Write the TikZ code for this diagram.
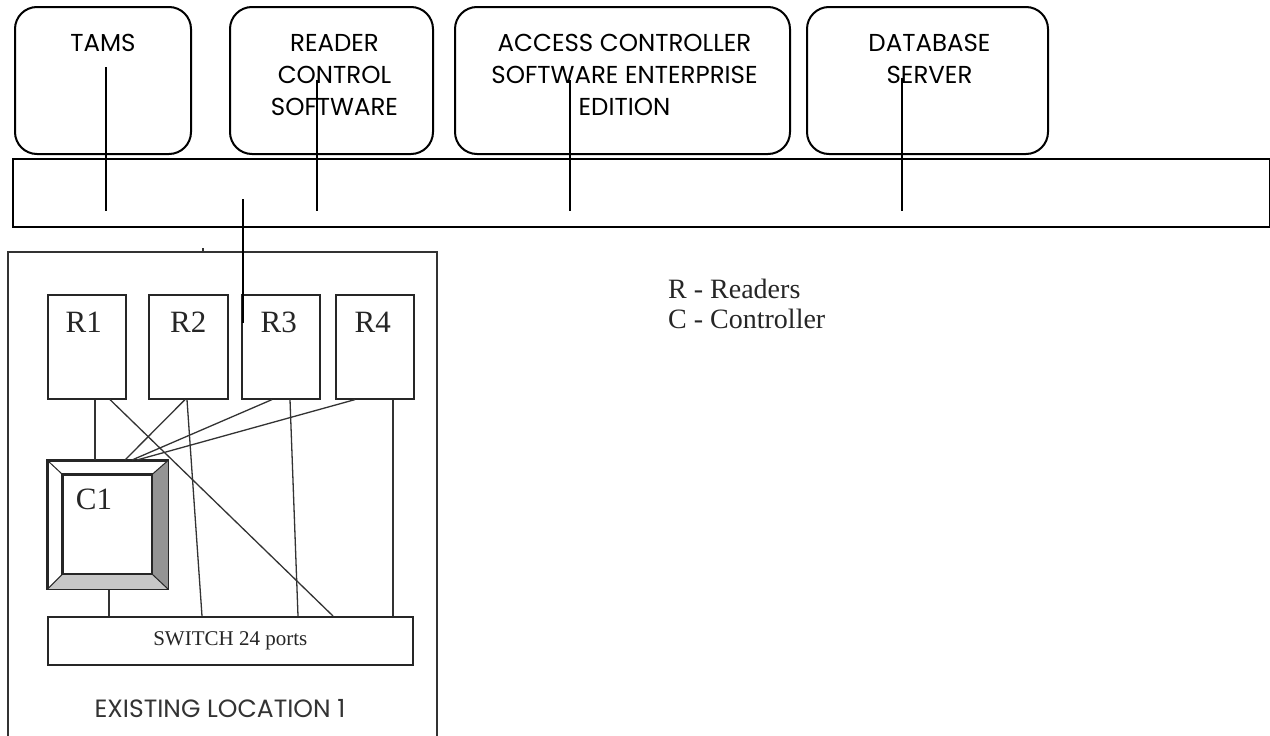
\documentclass[tikz,border=0pt]{standalone}
\usepackage{fontspec}
\setmainfont{Liberation Serif}
\newfontfamily\gothic{Poppins}
\usetikzlibrary{calc}
\begin{document}
\begin{tikzpicture}[x=1pt,y=-1pt,
  topbox/.style={draw=black, line width=2pt, rounded corners=22pt, inner sep=0pt, anchor=north west, minimum height=147pt},
  toptext/.style={font=\gothic\fontsize{24.5}{32}\selectfont, align=center, inner sep=0pt, anchor=north},
  buslink/.style={line width=1.6pt, draw=black},
  locline/.style={line width=2pt, draw=black!80},
  reader/.style={draw=black!85, line width=1.6pt, minimum width=78pt, minimum height=104pt, inner sep=0pt, anchor=north west},
  serif/.style={font=\fontsize{31}{34}\selectfont, inner sep=0pt, text=black!85},
  wire/.style={line width=1.3pt, draw=black!80},
]
\useasboundingbox[fill=white] (0,0) rectangle (1270,736);

% top boxes
\node[topbox, minimum width=176pt] (tams) at (14,6) {};
\node[topbox, minimum width=203pt] (rcs) at (229,6) {};
\node[topbox, minimum width=335pt] (acs) at (454,6) {};
\node[topbox, minimum width=241pt] (db) at (806,6) {};
\node[toptext] (tamsT) at ($(tams.north)+(0,28)$) {TAMS};
\node[toptext] (rcsT) at ($(rcs.north)+(3,28)$) {READER\\CONTROL\\SOFTWARE};
\node[toptext] (acsT) at ($(acs.north)+(2,28)$) {ACCESS CONTROLLER\\SOFTWARE ENTERPRISE\\EDITION};
\node[toptext] (dbT) at ($(db.north)+(2,28)$) {DATABASE\\SERVER};

% bus bar
\node[draw=black, line width=2pt, minimum width=1257pt, minimum height=68pt, inner sep=0pt, anchor=north west] (bus) at (12,158) {};

\coordinate (tamsP) at (106,67);  \coordinate (busA) at (106,211);
\coordinate (rcsP) at (317,80);   \coordinate (busB) at (317,211);
\coordinate (acsP) at (570,80);   \coordinate (busC) at (570,211);
\coordinate (dbP) at (902,78);    \coordinate (busD) at (902,211);
\draw[buslink] (tamsP) -- (busA);
\draw[buslink] (rcsP) -- (busB);
\draw[buslink] (acsP) -- (busC);
\draw[buslink] (dbP) -- (busD);

% location enclosure
\draw[locline] (8,745) -- (8,252) -- (437,252) -- (437,745);
\draw[line width=1.5pt, black!80] (203,248) -- (203,252);

% readers
\node[reader] (r1) at (47,294) {};
\node[reader, minimum width=79pt] (r2) at (148,294) {};
\node[reader] (r3) at (241,294) {};
\node[reader] (r4) at (335,294) {};
\node[serif] (r1T) at ($(r1.north)+(-3,28)$) {R1};
\node[serif] (r2T) at ($(r2.north)+(0,28)$) {R2};
\node[serif] (r3T) at ($(r3.north)+(-2,28)$) {R3};
\node[serif] (r4T) at ($(r4.north)+(-2,28)$) {R4};

% link from bus into location
\coordinate (linkTop) at (243,199);
\coordinate (linkEnd) at (243,323);
\draw[buslink] (linkTop) -- (linkEnd);

% controller C1 with bevel
\node[draw=black!85, line width=1.6pt, minimum width=120pt, minimum height=128pt, inner sep=0pt, anchor=north west] (c1) at (47,460) {};
\node[draw=black!85, line width=1.6pt, minimum width=89pt, minimum height=99pt, inner sep=0pt, anchor=north west] (c1in) at (62,474) {};
\fill[black!42] (c1.north east) -- (c1.south east) -- (c1in.south east) -- (c1in.north east) -- cycle;
\fill[black!22] (c1.south west) -- (c1.south east) -- (c1in.south east) -- (c1in.south west) -- cycle;
\draw[line width=1.6pt, black!85] (c1.north west) rectangle (c1.south east);
\draw[line width=1.6pt, black!85] (c1in.north west) rectangle (c1in.south east);
\draw[line width=1pt, black!85] (c1.north west) -- (c1in.north west);
\draw[line width=1pt, black!85] (c1.north east) -- (c1in.north east);
\draw[line width=1pt, black!85] (c1.south west) -- (c1in.south west);
\draw[line width=1pt, black!85] (c1.south east) -- (c1in.south east);
\node[serif] (c1T) at (94,499) {C1};

% switch
\node[draw=black!85, line width=1.6pt, minimum width=365pt, minimum height=48pt, inner sep=0pt, anchor=north west, font=\fontsize{21}{24}\selectfont, text=black!85] (sw) at (47,616) {SWITCH 24 ports};

% wires
\draw[wire] ($(r1.south west)+(48,0)$) -- ($(c1.north west)+(48,0)$);
\draw[wire] ($(r1.south west)+(63,0)$) -- ($(sw.north west)+(286,0)$);
\draw[wire] ($(r2.south west)+(37,0)$) -- ($(c1.north west)+(78,0)$);
\draw[wire] ($(r2.south west)+(39,0)$) -- ($(sw.north west)+(155,0)$);
\draw[wire] ($(r3.south west)+(31,0)$) -- ($(c1.north west)+(85,0)$);
\draw[wire] ($(r3.south west)+(49,0)$) -- ($(sw.north west)+(251,0)$);
\draw[wire] ($(r4.south west)+(20,0)$) -- ($(c1.north west)+(90,0)$);
\draw[wire] ($(r4.south west)+(58,0)$) -- ($(sw.north west)+(346,0)$);
\draw[wire] ($(c1.south west)+(62,0)$) -- ($(sw.north west)+(62,0)$);

% location label
\node[font=\gothic\fontsize{25}{30}\selectfont, text=black!80, inner sep=0pt] (loc) at (220,709) {EXISTING LOCATION 1};

% legend
\node[anchor=base west, inner sep=0pt, font=\fontsize{28}{32}\selectfont, text=black!85] (legR) at (668,298) {R - Readers};
\node[anchor=base west, inner sep=0pt, font=\fontsize{28}{32}\selectfont, text=black!85] (legC) at (668,328) {C - Controller};
\end{tikzpicture}
\end{document}
